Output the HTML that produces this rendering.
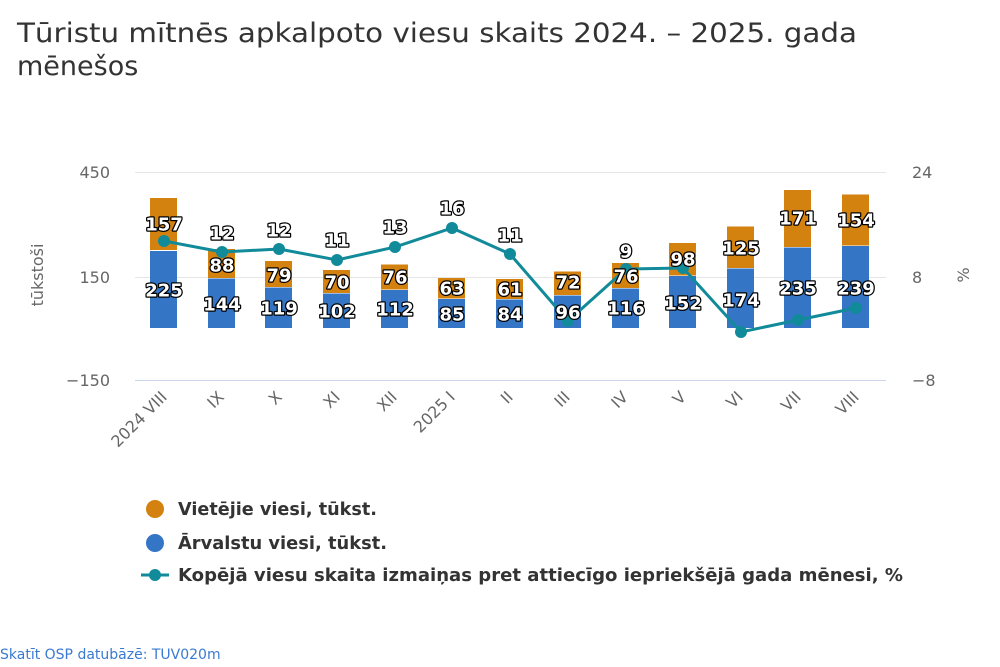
<!DOCTYPE html>
<html><head><meta charset="utf-8"><style>
body{margin:0;background:#fff;}
svg{display:block;font-family:"DejaVu Sans","Liberation Sans",sans-serif;}
.bl{font-size:18px;font-weight:bold;fill:#fff;stroke:#000;stroke-width:2.5px;paint-order:stroke;stroke-linejoin:round;text-anchor:middle;dominant-baseline:central;}
.ax{font-size:16px;fill:#666;}
.xl{font-size:16px;fill:#666;text-anchor:end;}
.lg{font-size:17.5px;font-weight:bold;fill:#333;}
</style></head><body>
<svg width="1000" height="667" viewBox="0 0 1000 667">
<text x="17" y="42" font-size="27" fill="#333" textLength="840" lengthAdjust="spacingAndGlyphs">Tūristu mītnēs apkalpoto viesu skaits 2024. – 2025. gada</text>
<text x="17" y="75" font-size="27" fill="#333">mēnešos</text>
<g stroke="#e6e6e6" stroke-width="1">
<line x1="135" y1="172.5" x2="886" y2="172.5"/>
<line x1="135" y1="277.5" x2="886" y2="277.5"/>
</g>
<line x1="135" y1="380.5" x2="886" y2="380.5" stroke="#ccd6eb"/>
<g class="ax" text-anchor="end">
<text x="110" y="178">450</text><text x="110" y="283">150</text><text x="110" y="386">−150</text>
</g>
<g class="ax">
<text x="912" y="178">24</text><text x="912" y="283">8</text><text x="912" y="386">−8</text>
</g>
<text transform="translate(43,275) rotate(-90)" class="ax" font-size="18" text-anchor="middle">tūkstoši</text>
<text transform="translate(969,275) rotate(-90)" class="ax" font-size="18" text-anchor="middle">%</text>
<g fill="#3475c6">
<rect x="150" y="251" width="27" height="77"/>
<rect x="208" y="278.5" width="27" height="49.5"/>
<rect x="265" y="287.5" width="27" height="40.5"/>
<rect x="323" y="293.5" width="27" height="34.5"/>
<rect x="381" y="290" width="27" height="38"/>
<rect x="438" y="299" width="27" height="29"/>
<rect x="496" y="299.5" width="27" height="28.5"/>
<rect x="554" y="295.5" width="27" height="32.5"/>
<rect x="612" y="288.5" width="27" height="39.5"/>
<rect x="669" y="276" width="27" height="52"/>
<rect x="727" y="268.5" width="27" height="59.5"/>
<rect x="784" y="247.5" width="27" height="80.5"/>
<rect x="842" y="246" width="27" height="82"/>
</g>
<g fill="#d4820f">
<rect x="150" y="198" width="27" height="52"/>
<rect x="208" y="249" width="27" height="29"/>
<rect x="265" y="261" width="27" height="26"/>
<rect x="323" y="270" width="27" height="23"/>
<rect x="381" y="264.5" width="27" height="25"/>
<rect x="438" y="278" width="27" height="20.5"/>
<rect x="496" y="279" width="27" height="20"/>
<rect x="554" y="271.5" width="27" height="23.5"/>
<rect x="612" y="263" width="27" height="25"/>
<rect x="669" y="243" width="27" height="32.5"/>
<rect x="727" y="226.5" width="27" height="41.5"/>
<rect x="784" y="190" width="27" height="57"/>
<rect x="842" y="194.5" width="27" height="51"/>
</g>
<polyline fill="none" stroke="#118a9a" stroke-width="3" points="164,241 222,252 279,249 337,260 395,247 452,228 510,254 568,321 626,269 683,268 741,332 798,320 856,308"/>
<g fill="#118a9a">
<circle cx="164" cy="241" r="6"/><circle cx="222" cy="252" r="6"/><circle cx="279" cy="249" r="6"/><circle cx="337" cy="260" r="6"/><circle cx="395" cy="247" r="6"/><circle cx="452" cy="228" r="6"/><circle cx="510" cy="254" r="6"/><circle cx="568" cy="321" r="6"/><circle cx="626" cy="269" r="6"/><circle cx="683" cy="268" r="6"/><circle cx="741" cy="332" r="6"/><circle cx="798" cy="320" r="6"/><circle cx="856" cy="308" r="6"/>
</g>
<g class="bl">
<text x="164" y="291">225</text><text x="222" y="305">144</text><text x="279" y="309">119</text><text x="337" y="312">102</text><text x="395" y="310">112</text><text x="452" y="315">85</text><text x="510" y="315">84</text><text x="568" y="313">96</text><text x="626" y="309">116</text><text x="683" y="304">152</text><text x="741" y="301">174</text><text x="798" y="289">235</text><text x="856" y="289">239</text>
<text x="164" y="225">157</text><text x="222" y="266">88</text><text x="279" y="276">79</text><text x="337" y="283">70</text><text x="395" y="278">76</text><text x="452" y="289">63</text><text x="510" y="290">61</text><text x="568" y="283">72</text><text x="626" y="277">76</text><text x="683" y="260">98</text><text x="741" y="249">125</text><text x="798" y="219">171</text><text x="856" y="221">154</text>
<text x="222" y="234">12</text><text x="279" y="231">12</text><text x="337" y="241">11</text><text x="395" y="228">13</text><text x="452" y="209">16</text><text x="510" y="236">11</text><text x="626" y="252">9</text>
</g>
<g class="xl">
<text transform="translate(168,398) rotate(-45)">2024 VIII</text>
<text transform="translate(225,398) rotate(-45)">IX</text>
<text transform="translate(283,398) rotate(-45)">X</text>
<text transform="translate(341,398) rotate(-45)">XI</text>
<text transform="translate(398,398) rotate(-45)">XII</text>
<text transform="translate(456,398) rotate(-45)">2025 I</text>
<text transform="translate(514,398) rotate(-45)">II</text>
<text transform="translate(571,398) rotate(-45)">III</text>
<text transform="translate(629,398) rotate(-45)">IV</text>
<text transform="translate(687,398) rotate(-45)">V</text>
<text transform="translate(744,398) rotate(-45)">VI</text>
<text transform="translate(802,398) rotate(-45)">VII</text>
<text transform="translate(860,398) rotate(-45)">VIII</text>
</g>
<circle cx="155" cy="509" r="9" fill="#d4820f"/>
<text x="178" y="515" class="lg" textLength="199" lengthAdjust="spacingAndGlyphs">Vietējie viesi, tūkst.</text>
<circle cx="155" cy="543" r="9" fill="#3475c6"/>
<text x="178" y="549" class="lg" textLength="209" lengthAdjust="spacingAndGlyphs">Ārvalstu viesi, tūkst.</text>
<line x1="141" y1="575" x2="169" y2="575" stroke="#118a9a" stroke-width="3"/>
<circle cx="155" cy="575" r="6" fill="#118a9a"/>
<text x="178" y="581" class="lg" textLength="725" lengthAdjust="spacingAndGlyphs">Kopējā viesu skaita izmaiņas pret attiecīgo iepriekšējā gada mēnesi, %</text>
<text x="0" y="659" font-size="14" fill="#3a7ad0">Skatīt OSP datubāzē: TUV020m</text>
</svg>
</body></html>
